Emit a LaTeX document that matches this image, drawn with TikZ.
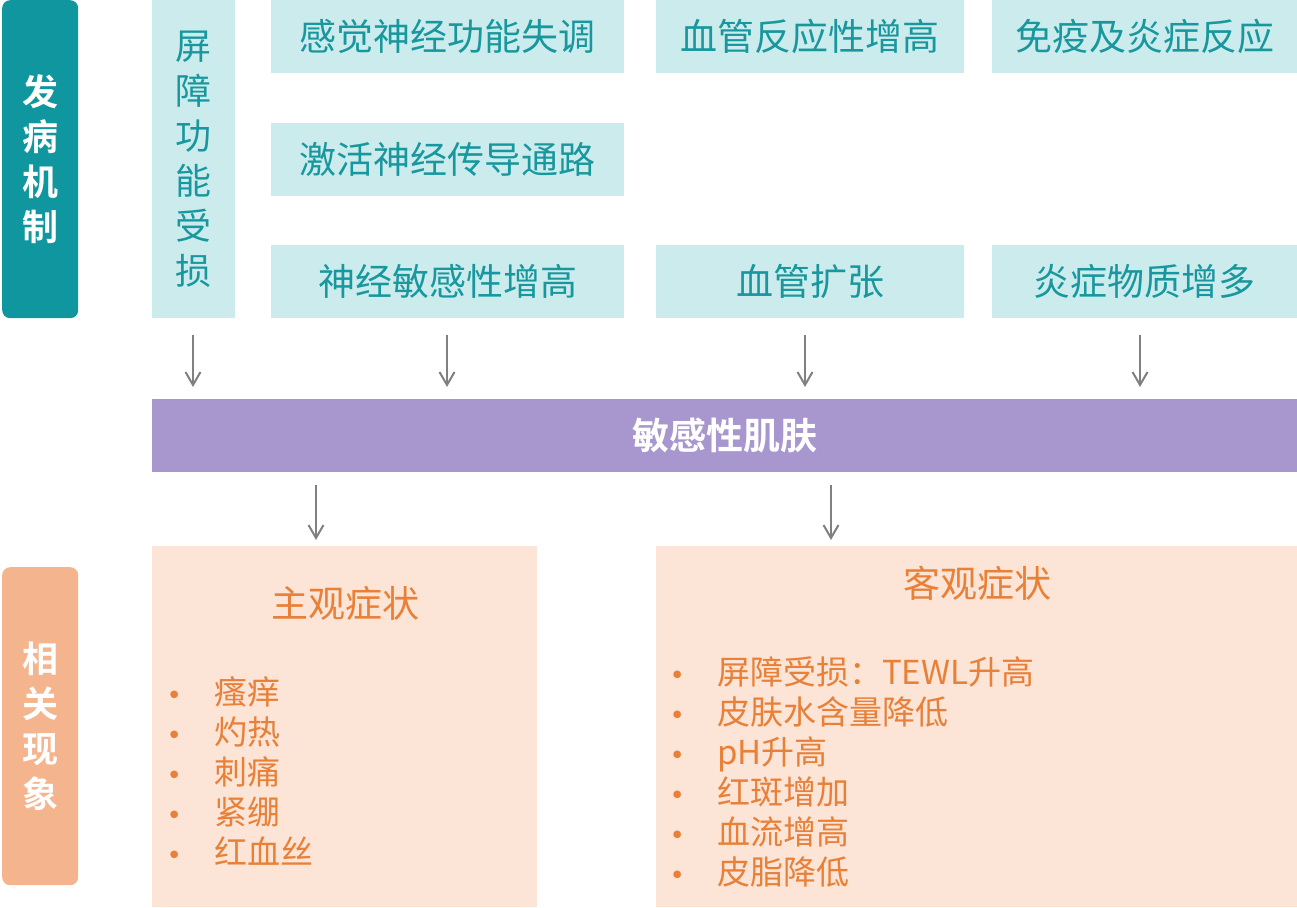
\documentclass[tikz,border=0pt]{standalone}
\usepackage{fontspec}
\usetikzlibrary{arrows.meta,positioning}
\newfontfamily\cjk{Noto Sans CJK SC}[BoldFont={Noto Sans CJK SC Bold}]
\newfontfamily\dejavu{DejaVu Sans}
\definecolor{tealdark}{RGB}{16,150,158}
\definecolor{tealtext}{RGB}{24,152,158}
\definecolor{tealpale}{RGB}{204,235,236}
\definecolor{lavender}{RGB}{168,151,206}
\definecolor{apricot}{RGB}{244,181,142}
\definecolor{peachpale}{RGB}{252,228,214}
\definecolor{orangetext}{RGB}{232,128,56}
\definecolor{arrowgray}{RGB}{128,128,128}
\tikzset{
  side/.style={
    rounded corners=8pt,
    anchor=north west,
    inner sep=0pt,
    minimum width=76pt,
    minimum height=318pt,
    align=center,
    text=white,
    font=\cjk\bfseries\fontsize{36}{45}\selectfont
  },
  cause/.style={
    fill=tealpale,
    anchor=north west,
    inner sep=0pt,
    minimum height=73pt,
    text=tealtext,
    font=\cjk\fontsize{37}{45}\selectfont
  },
  symbox/.style={
    fill=peachpale,
    anchor=north west,
    inner sep=0pt,
    minimum height=361pt
  },
  symtitle/.style={
    text=orangetext,
    inner sep=0pt,
    font=\cjk\fontsize{37}{40}\selectfont
  },
  symlist/.style={
    anchor=north west,
    inner sep=0pt,
    align=left,
    text=orangetext,
    font=\cjk\fontsize{33}{40}\selectfont
  },
  arrow/.style={
    -{Straight Barb[length=13pt,width=15pt]},
    line width=2pt,
    arrowgray
  }
}
\newcommand{\itm}[1]{\makebox[20pt][c]{\dejavu\fontsize{26}{26}\selectfont\textbullet}\hspace{30pt}#1}

\begin{document}
\begin{tikzpicture}[x=1pt,y=-1pt]
\useasboundingbox (0,0) rectangle (1297,907);

% left labels
\node[side, fill=tealdark] (jz) at (2,0) {发\\病\\机\\制};
\node[side, fill=apricot] (xx) at (2,567) {相\\关\\现\\象};

% causes
\node[cause, minimum width=83pt, align=center, font=\cjk\fontsize{36}{45}\selectfont, minimum height=318pt] (pz) at (152,0) {屏\\障\\功\\能\\受\\损};
\node[cause, minimum width=353pt] (sj1) at (271,0) {感觉神经功能失调};
\node[cause, minimum width=353pt] (sj2) at (271,123) {激活神经传导通路};
\node[cause, minimum width=353pt] (sj3) at (271,245) {神经敏感性增高};
\node[cause, minimum width=308pt] (xg1) at (656,0) {血管反应性增高};
\node[cause, minimum width=308pt] (xg2) at (656,245) {血管扩张};
\node[cause, minimum width=305pt] (yz1) at (992,0) {免疫及炎症反应};
\node[cause, minimum width=305pt] (yz2) at (992,245) {炎症物质增多};

% sensitive skin
\node[fill=lavender, anchor=north west, inner sep=0pt, minimum width=1145pt, minimum height=73pt,
  text=white, font=\cjk\bfseries\fontsize{37}{40}\selectfont] (mg) at (152,399) {敏感性肌肤};

% symptoms
\node[symbox, minimum width=385pt] (zg) at (152,546) {};
\node[symbox, minimum width=641pt] (kg) at (656,546) {};
\node[symtitle] (zgt) at (345,603) {主观症状};
\node[symtitle] (kgt) at (977,583) {客观症状};
\node[symlist] (zgl) at (164,676) {\itm{瘙痒}\\\itm{灼热}\\\itm{刺痛}\\\itm{紧绷}\\\itm{红血丝}};
\node[symlist] (kgl) at (667,656) {\itm{屏障受损：TEWL升高}\\\itm{皮肤水含量降低}\\\itm{pH升高}\\\itm{红斑增加}\\\itm{血流增高}\\\itm{皮脂降低}};

\coordinate (a1) at (193,335);
\coordinate (a2) at (447,335);
\coordinate (a3) at (805,335);
\coordinate (a4) at (1140,335);
\coordinate (b1) at (316,485);
\coordinate (b2) at (831,485);

\draw[arrow] (a1) -- ([yshift=12pt]a1 |- mg.north);
\draw[arrow] (a2) -- ([yshift=12pt]a2 |- mg.north);
\draw[arrow] (a3) -- ([yshift=12pt]a3 |- mg.north);
\draw[arrow] (a4) -- ([yshift=12pt]a4 |- mg.north);
\draw[arrow] (b1) -- ([yshift=6pt]b1 |- zg.north);
\draw[arrow] (b2) -- ([yshift=6pt]b2 |- kg.north);
\end{tikzpicture}
\end{document}
